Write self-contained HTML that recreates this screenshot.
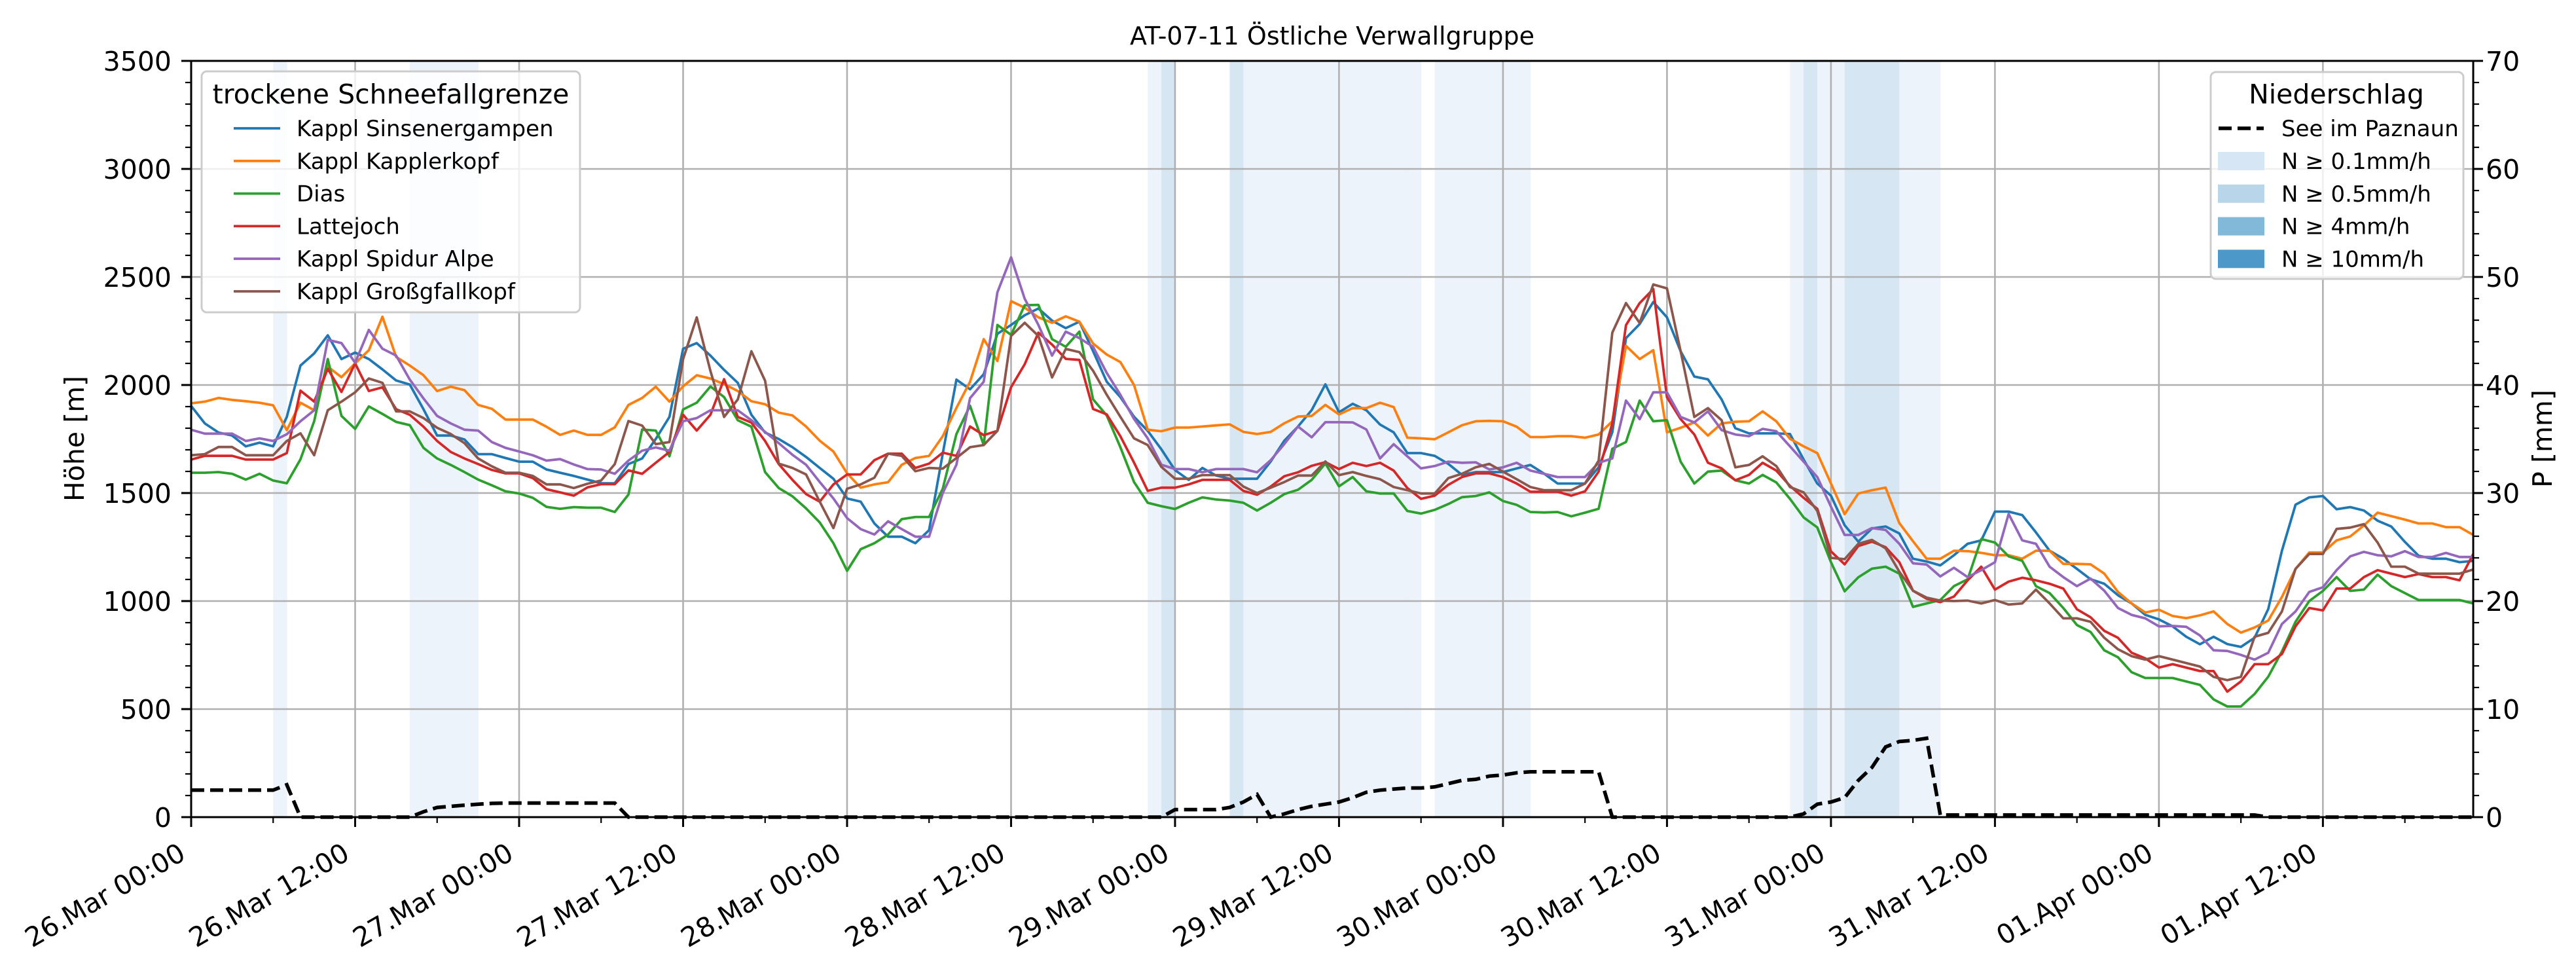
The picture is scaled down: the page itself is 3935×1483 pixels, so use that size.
<!DOCTYPE html>
<html><head><meta charset="utf-8"><title>AT-07-11 Östliche Verwallgruppe</title>
<style>
html,body{margin:0;padding:0;background:#fff;}
svg{display:block;font-family:"DejaVu Sans","Liberation Sans",sans-serif;}
</style></head>
<body>
<svg id="chart" xmlns="http://www.w3.org/2000/svg" width="3935" height="1483" viewBox="0 0 3935 1483">
<rect x="0" y="0" width="3935" height="1483" fill="#fff"/>
<g id="bands"></g>
<g id="grid"></g>
<g id="series"></g>
<g id="axes"></g>
<text x="2035" y="68" font-size="38" text-anchor="middle">AT-07-11 Östliche Verwallgruppe</text>
<text transform="translate(128,670) rotate(-90)" font-size="41" text-anchor="middle">Höhe [m]</text>
<text transform="translate(3898,670) rotate(-90)" font-size="41" text-anchor="middle">P [mm]</text>
<g id="legend1"></g>
<g id="legend2"></g>
</svg>
<script>
const hours = Array.from({length:168},(_,i)=>i);
const sinsenergampen = [1903,1822,1780,1766,1716,1733,1716,1852,2090,2146,2230,2120,2150,2120,2072,2021,2002,1888,1766,1766,1748,1680,1680,1662,1645,1645,1609,1594,1579,1562,1545,1545,1634,1660,1750,1852,2168,2194,2136,2070,2010,1862,1780,1750,
1712,1667,1616,1566,1475,1460,1359,1298,1298,1268,1328,1682,2025,1980,2050,2237,2278,2323,2354,2298,2263,2293,2157,2015,1944,1853,1788,1702,1606,1561,1616,1581,1566,1566,1566,1646,1742,1808,1884,2003,1874,
1913,1883,1817,1781,1685,1685,1672,1635,1584,1597,1597,1597,1614,1630,1590,1544,1544,1544,1619,1781,2217,2282,2384,2313,2156,2039,2026,1933,1800,1776,1776,1776,1773,1655,1544,1488,1351,1275,1336,
1345,1313,1196,1183,1165,1212,1265,1281,1414,1414,1398,1318,1233,1196,1149,1101,1080,1027,989,936,915,883,835,800,835,801,788,830,963,1233,1446,1480,1486,1425,1435,1419,1372,1345,1274,1210,1196,1196,1180,1186];
const kapplerkopf = [1915,1923,1940,1931,1925,1918,1906,1791,1918,1883,2085,2036,2100,2161,2316,2130,2090,2045,1972,1992,1976,1908,1890,1840,1840,1840,1807,1769,1789,1769,1769,1804,1908,1940,1992,1923,1994,2045,2030,2004,1972,1925,1911,1872,
1859,1808,1742,1692,1591,1525,1540,1550,1631,1662,1672,1763,1894,2015,2212,2111,2388,2358,2313,2288,2318,2293,2192,2141,2106,2000,1793,1786,1803,1803,1808,1813,1818,1783,1773,1783,1823,1854,1857,1908,1864,
1893,1893,1918,1898,1756,1753,1749,1781,1814,1832,1834,1832,1807,1759,1759,1763,1763,1756,1771,1832,2181,2120,2161,1781,1802,1827,1766,1822,1830,1832,1878,1832,1751,1716,1685,1544,1402,1498,1513,
1525,1361,1277,1196,1196,1233,1231,1223,1212,1212,1196,1233,1233,1172,1172,1170,1127,1042,989,947,960,931,921,934,952,894,854,878,910,1019,1149,1225,1225,1281,1299,1350,1409,1393,1377,1359,1359,1342,1342,1306];
const dias = [1594,1594,1597,1589,1562,1589,1558,1545,1656,1832,2120,1857,1797,1901,1866,1829,1814,1709,1660,1630,1597,1562,1536,1508,1498,1478,1436,1427,1435,1432,1432,1412,1493,1794,1789,1670,1887,1918,1993,1944,1837,1807,1597,1523,
1485,1429,1364,1268,1140,1240,1268,1308,1379,1389,1389,1520,1773,1904,1722,2278,2232,2369,2371,2212,2177,2247,1934,1859,1712,1551,1455,1439,1426,1455,1480,1470,1465,1455,1419,1455,1495,1515,1561,1637,1531,
1574,1508,1498,1498,1417,1405,1422,1449,1481,1486,1503,1463,1445,1412,1410,1412,1392,1409,1427,1705,1736,1928,1832,1837,1645,1544,1599,1604,1559,1544,1584,1549,1473,1387,1341,1180,1045,1110,1150,
1159,1127,973,989,1005,1069,1101,1287,1271,1207,1186,1069,1037,968,889,857,772,740,671,644,644,644,628,612,545,512,512,570,650,767,904,1000,1047,1111,1047,1053,1122,1069,1037,1005,1005,1005,1005,989];
const lattejoch = [1655,1672,1672,1672,1655,1655,1655,1685,1974,1923,2075,1968,2100,1972,1989,1888,1862,1807,1741,1690,1660,1634,1607,1591,1591,1569,1518,1503,1488,1526,1541,1541,1605,1589,1640,1690,1862,1789,1862,2027,1852,1826,1741,1634,
1561,1495,1460,1540,1586,1586,1652,1682,1682,1616,1636,1687,1672,1808,1768,1788,1990,2096,2242,2187,2121,2116,1889,1864,1763,1641,1510,1525,1525,1540,1561,1561,1561,1510,1492,1530,1578,1596,1626,1643,1611,
1640,1625,1640,1604,1523,1473,1488,1538,1574,1591,1591,1574,1544,1506,1506,1506,1488,1508,1599,1822,2277,2379,2444,1943,1842,1771,1640,1614,1559,1584,1640,1604,1533,1478,1427,1230,1170,1255,1275,
1249,1180,1048,1011,995,1021,1096,1159,1053,1090,1108,1096,1080,1058,962,925,862,830,761,735,692,708,692,676,676,581,628,708,708,755,883,968,957,1058,1058,1111,1143,1127,1111,1125,1111,1111,1096,1218];
const spidurAlpe = [1793,1775,1775,1775,1741,1753,1741,1772,1832,1883,2209,2194,2103,2255,2168,2136,2025,1938,1857,1822,1793,1789,1736,1709,1692,1675,1650,1657,1632,1611,1609,1589,1650,1696,1711,1696,1832,1847,1883,1883,1883,1837,1783,1731,
1677,1631,1551,1475,1384,1333,1308,1369,1333,1298,1298,1500,1631,1939,2015,2429,2591,2399,2278,2136,2247,2217,2177,2056,1955,1843,1753,1631,1611,1611,1596,1611,1611,1611,1596,1652,1727,1808,1758,1828,1828,
1827,1794,1660,1726,1670,1614,1625,1645,1640,1642,1609,1619,1640,1604,1589,1574,1574,1574,1640,1660,1928,1842,1966,1966,1852,1827,1878,1791,1771,1763,1797,1786,1716,1645,1574,1437,1306,1306,1338,
1329,1265,1175,1169,1114,1154,1111,1143,1180,1403,1281,1265,1159,1111,1069,1104,1048,968,936,920,883,885,881,841,772,769,751,729,761,894,952,1042,1064,1143,1207,1228,1212,1207,1231,1204,1204,1223,1204,1204];
const grossgfallkopf = [1675,1680,1713,1713,1675,1675,1675,1741,1776,1675,1883,1923,1966,2030,2010,1878,1878,1847,1802,1773,1731,1660,1624,1594,1594,1579,1540,1540,1523,1543,1558,1634,1833,1812,1726,1736,2120,2313,2065,1852,1933,2156,2020,1636,
1616,1586,1460,1338,1520,1540,1571,1682,1672,1601,1616,1613,1662,1712,1722,1788,2227,2288,2227,2035,2167,2152,2066,1955,1853,1753,1722,1621,1566,1566,1583,1583,1583,1530,1500,1525,1551,1581,1581,1646,1583,
1597,1579,1564,1528,1513,1498,1498,1569,1589,1619,1635,1599,1564,1528,1513,1513,1513,1544,1650,2242,2379,2287,2465,2447,2156,1852,1893,1837,1619,1630,1670,1625,1528,1503,1417,1200,1194,1265,1283,
1244,1136,1048,1016,1002,1000,1002,989,1005,984,989,1053,989,920,920,904,830,777,745,729,745,729,713,697,649,634,649,835,853,952,1149,1218,1218,1334,1340,1356,1271,1159,1159,1127,1127,1127,1127,1146];
const paznaun = [2.5,2.5,2.5,2.5,2.5,2.5,2.5,3.0,0,0,0,0,0,0,0,0,0,0.5,0.9,1.0,1.1,1.2,1.27,1.3,1.3,1.3,1.3,1.3,1.3,1.3,1.3,1.3,
0,0,0,0,0,0,0,0,0,0,0,0,0,0,0,0,0,0,0,0,0,0,0,0,0,0,0,0,0,0,0,0,0,0,0,0,0,0,0,0,
0.7,0.7,0.7,0.7,0.9,1.4,2.1,0,0.3,0.7,1.0,1.2,1.4,1.8,2.3,2.5,2.6,2.7,2.7,2.8,3.1,3.4,3.5,3.8,3.9,4.1,4.2,4.2,4.2,4.2,4.2,4.2,
0,0,0,0,0,0,0,0,0,0,0,0,0,0,
0.3,1.2,1.4,1.8,3.4,4.6,6.5,7.0,7.1,7.3,
0.2,0.2,0.2,0.2,0.2,0.2,0.2,0.2,0.2,0.2,0.2,0.2,0.2,0.2,0.2,0.2,0.2,0.2,0.2,0.2,0.2,0.2,0.2,0.2,
0,0,0,0,0,0,0,0,0,0,0,0,0,0,0,0];
const precipLevel = [0,0,0,0,0,0,1,0,0,0,0,0,0,0,0,0,1,1,1,1,1,0,0,0,
0,0,0,0,0,0,0,0,0,0,0,0,0,0,0,0,0,0,0,0,0,0,0,0,
0,0,0,0,0,0,0,0,0,0,0,0,0,0,0,0,0,0,0,0,0,0,1,2,
0,0,0,0,2,1,1,1,1,1,1,1,1,1,1,1,1,1,0,1,1,1,1,1,
1,1,0,0,0,0,0,0,0,0,0,0,0,0,0,0,0,0,0,0,0,1,2,1,
1,2,2,2,2,1,1,1,0,0,0,0,0,0,0,0,0,0,0,0,0,0,0,0,
0,0,0,0,0,0,0,0,0,0,0,0,0,0,0,0,0,0,0,0,0,0,0,0];
const xTickHours = [0,12,24,36,48,60,72,84,96,108,120,132,144,156];
const xTickLabels = ["26.Mar 00:00","26.Mar 12:00","27.Mar 00:00","27.Mar 12:00","28.Mar 00:00","28.Mar 12:00","29.Mar 00:00","29.Mar 12:00","30.Mar 00:00","30.Mar 12:00","31.Mar 00:00","31.Mar 12:00","01.Apr 00:00","01.Apr 12:00"];
const yTicksLeft = [0,500,1000,1500,2000,2500,3000,3500];
const yTicksRight = [0,10,20,30,40,50,60,70];
const seriesNames = ["Kappl Sinsenergampen","Kappl Kapplerkopf","Dias","Lattejoch","Kappl Spidur Alpe","Kappl Großgfallkopf"];
const seriesColors = ["#1f77b4","#ff7f0e","#2ca02c","#d62728","#9467bd","#8c564b"];
const seriesData = [sinsenergampen,kapplerkopf,dias,lattejoch,spidurAlpe,grossgfallkopf];

const NS="http://www.w3.org/2000/svg";
const L=292,R=3778,T=93,B=1248;
const xScale=h=>L+h*(R-L)/167;
const yScale=v=>B-v*(B-T)/3500;
const y2Scale=p=>B-p*(B-T)/70;
function mk(tag,attrs,parent){const e=document.createElementNS(NS,tag);for(const k in attrs)e.setAttribute(k,attrs[k]);parent.appendChild(e);return e;}

// bands
const bands=document.getElementById('bands');
const bandColors=["","#edf3fa","#d6e6f3"];
hours.forEach(h=>{const lv=precipLevel[h];if(!lv)return;
 const r=mk('rect',{x:xScale(h),y:T,width:xScale(h+1)-xScale(h)+0.5,height:B-T,fill:bandColors[lv]},bands);
 
 
});

// grid
const grid=document.getElementById('grid');
xTickHours.forEach(h=>{const l=mk('line',{x1:xScale(h),x2:xScale(h),y1:T,y2:B,stroke:'#b0b0b0','stroke-width':2.6},grid);
 
 });
yTicksLeft.forEach(v=>{const l=mk('line',{x1:L,x2:R,y1:yScale(v),y2:yScale(v),stroke:'#b0b0b0','stroke-width':2.6},grid);
 
 });

// series
const sg=document.getElementById('series');
seriesData.forEach((arr,i)=>{
 const d=arr.map((v,j)=>(j?'L':'M')+xScale(hours[j]).toFixed(1)+','+yScale(v).toFixed(1)).join('');
 const p=mk('path',{d:d,fill:'none',stroke:seriesColors[i],'stroke-width':3.8,'stroke-linejoin':'round'},sg);
 
 
});
const pd=paznaun.map((v,j)=>(j?'L':'M')+xScale(hours[j]).toFixed(1)+','+y2Scale(v).toFixed(1)).join('');
const pp=mk('path',{d:pd,fill:'none',stroke:'#000','stroke-width':5.5,'stroke-dasharray':'20,9'},sg);



// axes
const ax=document.getElementById('axes');
mk('rect',{x:L,y:T,width:R-L,height:B-T,fill:'none',stroke:'#000','stroke-width':3},ax);
for(let h=0;h<=167;h+=6){const maj=h%12===0;mk('line',{x1:xScale(h),x2:xScale(h),y1:B,y2:B+(maj?15:9),stroke:'#000','stroke-width':maj?3:2.2},ax);}
for(let v=0;v<=3500;v+=100){const maj=v%500===0;mk('line',{x1:L,x2:L-(maj?15:9),y1:yScale(v),y2:yScale(v),stroke:'#000','stroke-width':maj?3:2.2},ax);}
for(let p=0;p<=70;p+=2){const maj=p%10===0;mk('line',{x1:R,x2:R+(maj?15:9),y1:y2Scale(p),y2:y2Scale(p),stroke:'#000','stroke-width':maj?3:2.2},ax);}
xTickHours.forEach((h,i)=>{const x=xScale(h)-6,y=1311;
 const t=mk('text',{x:x,y:y,'font-size':41,'text-anchor':'end',transform:`rotate(-30 ${x} ${y})`},ax);t.textContent=xTickLabels[i];
 
 });
yTicksLeft.forEach(v=>{const t=mk('text',{x:262,y:yScale(v)+15,'font-size':41,'text-anchor':'end'},ax);t.textContent=v;
 
 });
yTicksRight.forEach(p=>{const t=mk('text',{x:3797,y:y2Scale(p)+15,'font-size':41,'text-anchor':'start'},ax);t.textContent=p;
 
 });

// legend 1
const lg1=document.getElementById('legend1');
mk('rect',{x:308,y:109,width:578,height:368,rx:8,fill:'rgba(255,255,255,0.8)',stroke:'#cccccc','stroke-width':3},lg1);
let tt=mk('text',{x:597,y:158,'font-size':41,'text-anchor':'middle'},lg1);tt.textContent='trockene Schneefallgrenze';


seriesNames.forEach((n,i)=>{const y=196+i*49.8;
 const g=mk('g',{},lg1);
 
 
 mk('line',{x1:357,x2:428,y1:y,y2:y,stroke:seriesColors[i],'stroke-width':3.8},g);
 const t=mk('text',{x:453,y:y+12,'font-size':34},g);t.textContent=n;});

// legend 2
const lg2=document.getElementById('legend2');
mk('rect',{x:3377,y:110,width:386,height:316,rx:8,fill:'rgba(255,255,255,0.8)',stroke:'#cccccc','stroke-width':3},lg2);
tt=mk('text',{x:3569,y:158,'font-size':41,'text-anchor':'middle'},lg2);tt.textContent='Niederschlag';


let g0=mk('g',{},lg2);


mk('line',{x1:3389,x2:3458,y1:196,y2:196,stroke:'#000','stroke-width':5.5,'stroke-dasharray':'20,9'},g0);
let t0=mk('text',{x:3485,y:208,'font-size':34},g0);t0.textContent='See im Paznaun';
const patchLabels=['N ≥ 0.1mm/h','N ≥ 0.5mm/h','N ≥ 4mm/h','N ≥ 10mm/h'];
const patchColors=['#d6e6f4','#b9d5ea','#82b8d8','#4b98c9'];
patchLabels.forEach((n,i)=>{const y=246+i*49.8;
 const g=mk('g',{},lg2);
 
 
 mk('rect',{x:3388,y:y-14,width:71,height:28,fill:patchColors[i]},g);
 const t=mk('text',{x:3485,y:y+12,'font-size':34},g);t.textContent=n;});
</script>
</body></html>
